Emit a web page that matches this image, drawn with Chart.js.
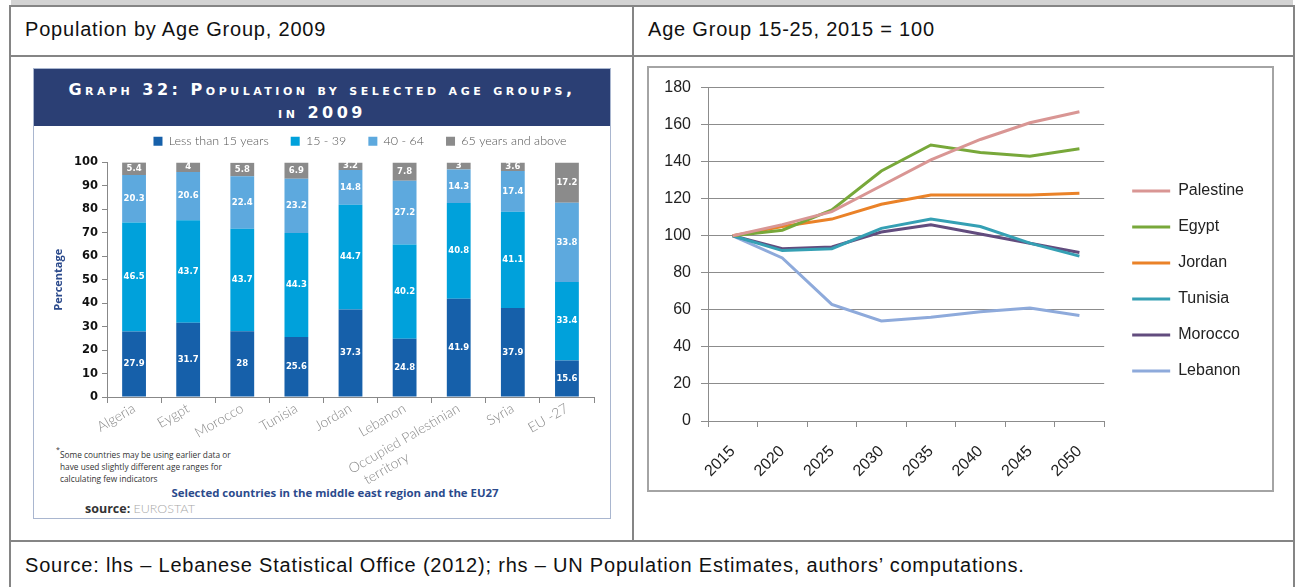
<!DOCTYPE html>
<html><head><meta charset="utf-8">
<script src="https://cdn.jsdelivr.net/npm/chart.js@4.4.1/dist/chart.umd.min.js"></script>
<style>
html,body{margin:0;padding:0;background:#fff;width:1300px;height:587px;overflow:hidden;}
body{position:relative;font-family:"Liberation Sans",Arial,sans-serif;}
.a{position:absolute;}
.h{background:#858585;height:2px;}
.v{background:#858585;width:2px;}
.cellt{font-size:20px;letter-spacing:0.8px;color:#111;white-space:nowrap;line-height:22px;}
#lbox{left:33px;top:68px;width:578px;height:451px;box-sizing:border-box;border:1px solid #a9b6cf;background:#fff;}
#lhead{left:34px;top:69px;width:576px;height:57px;background:#2b3f74;color:#fff;text-align:center;
  font-family:"DejaVu Sans",sans-serif;font-weight:bold;font-variant:small-caps;font-size:16px;letter-spacing:3.5px;line-height:23px;padding-top:9px;box-sizing:border-box;}
#rbox{left:647px;top:66px;width:627px;height:426px;box-sizing:border-box;border:2px solid #a4a4a4;background:#fff;}
.foot{font-family:"Open Sans",sans-serif;font-size:8.3px;color:#333;line-height:12px;white-space:nowrap;}
</style></head>
<body>
<div class="a" style="left:11px;top:0;width:1282px;height:5px;background:#d3d3d3"></div>
<div class="a h" style="left:9px;top:5px;width:1286px"></div>
<div class="a h" style="left:9px;top:55px;width:1286px"></div>
<div class="a h" style="left:9px;top:540px;width:1286px"></div>
<div class="a v" style="left:9px;top:5px;height:582px"></div>
<div class="a v" style="left:1293px;top:5px;height:582px"></div>
<div class="a v" style="left:632px;top:5px;height:537px"></div>
<div class="a cellt" style="left:25px;top:18px">Population by Age Group, 2009</div>
<div class="a cellt" style="left:648px;top:18px">Age Group 15-25, 2015 = 100</div>
<div class="a cellt" style="left:25px;top:554px">Source: lhs – Lebanese Statistical Office (2012); rhs – UN Population Estimates, authors’ computations.</div>

<div id="lbox" class="a"></div>
<div id="lhead" class="a">Graph 32: Population by selected age groups,<br>in 2009</div>
<div class="a foot" style="left:56px;top:444px;font-size:7px">*</div>
<div class="a foot" style="left:60px;top:449px">Some countries may be using earlier data or<br>have used slightly different age ranges for<br>calculating few indicators</div>
<div class="a" style="left:35px;top:485px;width:600px;text-align:center;font-family:'Open Sans',sans-serif;font-weight:bold;font-size:11.4px;color:#2b4a8c;white-space:nowrap">Selected countries in the middle east region and the EU27</div>
<div class="a" style="left:85px;top:500px;font-family:'Open Sans',sans-serif;font-size:12.5px;white-space:nowrap"><b style="color:#333">source:</b> <span style="color:#a8a8a8;font-family:'Lato',sans-serif;font-weight:300">EUROSTAT</span></div>
<canvas id="c1" class="a" width="575" height="380" style="left:34px;top:113px"></canvas>

<div id="rbox" class="a"></div>
<canvas id="c2" class="a" width="622" height="421" style="left:649px;top:68px"></canvas>

<script>
// ---- Left chart data ----
const countries = ['Algeria','Eygpt','Morocco','Tunisia','Jordan','Lebanon',['Occupied Palestinian','territory'],'Syria','EU -27'];
const ageGroups = ['Less than 15 years','15 - 39','40 - 64','65 years and above'];
const under15 = [27.9,31.7,28,25.6,37.3,24.8,41.9,37.9,15.6];
const age15to39 = [46.5,43.7,43.7,44.3,44.7,40.2,40.8,41.1,33.4];
const age40to64 = [20.3,20.6,22.4,23.2,14.8,27.2,14.3,17.4,33.8];
const age65plus = [5.4,4,5.8,6.9,3.2,7.8,3,3.6,17.2];
const pctTicks = [0,10,20,30,40,50,60,70,80,90,100];

// ---- Right chart data ----
const years = ['2015','2020','2025','2030','2035','2040','2045','2050'];
const lineNames = ['Palestine','Egypt','Jordan','Tunisia','Morocco','Lebanon'];
const palestine = [100,106,113,127,141,152,161,167];
const egypt = [100,103,114,135,149,145,143,147];
const jordan = [100,105,109,117,122,122,122,123];
const tunisia = [100,92,93,104,109,105,96,89];
const morocco = [100,93,94,102,106,101,96,91];
const lebanon = [100,88,63,54,56,59,61,57];

const barColors = ['#1660aa','#00a1db','#5da9de','#8b8b8b'];
const lineColors = ['#d99694','#78a83a','#ea8228','#35a0b4','#624c7e','#8eaadb'];

const legendShift = {
  id:'legendShift',
  afterLayout(chart, args, opts){
    const l = chart.legend; if(!l) return;
    l.left += opts.dx||0; l.right += opts.dx||0; l.top += opts.dy||0; l.bottom += opts.dy||0;
  }
};
const barLabels = {
  id:'barLabels',
  afterDatasetsDraw(chart){
    const ctx = chart.ctx;
    ctx.save();
    ctx.fillStyle = '#fff';
    ctx.font = 'bold 8.5px "DejaVu Sans"';
    ctx.textAlign = 'center'; ctx.textBaseline = 'middle';
    chart.data.datasets.forEach((ds, di) => {
      const meta = chart.getDatasetMeta(di);
      meta.data.forEach((el, i) => {
        const top = Math.max(el.y, chart.chartArea.top);
        ctx.fillText(String(ds.data[i]), el.x, (top + el.base)/2);
      });
    });
    ctx.restore();
  }
};

const stackSeries = [under15, age15to39, age40to64, age65plus];
new Chart(document.getElementById('c1'), {
  type:'bar',
  data:{ labels: countries,
    datasets: stackSeries.map((d,i)=>({label:ageGroups[i], data:d, backgroundColor:barColors[i], borderWidth:0,
      barPercentage:0.44, categoryPercentage:1})) },
  options:{
    responsive:false, animation:false,
    layout:{padding:{left:18,right:15,top:5,bottom:0}},
    plugins:{
      tooltip:{enabled:false},
      legend:{ position:'top', align:'center',
        labels:{ boxWidth:9, boxHeight:9, padding:22, color:'#555', font:{family:'Lato', size:12.5, weight:'300'} } },
      legendShift:{dx:37, dy:-5}
    },
    scales:{
      x:{ stacked:true,
        grid:{offset:true, drawOnChartArea:false, tickLength:6, color:'#888'},
        border:{color:'#888'},
        ticks:{ autoSkip:false, maxRotation:30, minRotation:30, padding:-3, color:'#8a8a8a', font:{family:'Lato', size:14, weight:'300'},
          callback:(v,i)=>{ const l = countries[i]; return Array.isArray(l) ? [l[0], l[1] + ' '.repeat(18)] : l; } },
        afterFit:s=>{ s.height = 96; } },
      y:{ stacked:true, min:0, max:100,
        afterBuildTicks:s=>{ s.ticks = pctTicks.map(v=>({value:v})); },
        grid:{drawOnChartArea:false, tickLength:5, color:'#888'},
        border:{color:'#888'},
        ticks:{ color:'#111', padding:4, font:{family:'DejaVu Sans', size:11.5, weight:'bold'} },
        title:{ display:true, text:'Percentage', color:'#2b4a8c', padding:{top:0,bottom:0}, font:{family:'Open Sans', size:11, weight:'bold'} },
        afterFit:s=>{ s.width = 55; } }
    }
  },
  plugins:[legendShift, barLabels]
});

const lineSeries = [palestine, egypt, jordan, tunisia, morocco, lebanon];
new Chart(document.getElementById('c2'), {
  type:'line',
  data:{ labels: years,
    datasets: lineSeries.map((d,i)=>({label:lineNames[i], data:d, borderColor:lineColors[i], backgroundColor:lineColors[i],
      borderWidth:3, pointRadius:0, tension:0, fill:false})) },
  options:{
    responsive:false, animation:false,
    layout:{padding:{left:0,right:25,top:19,bottom:0}},
    plugins:{
      tooltip:{enabled:false},
      legend:{ position:'right', align:'center',
        labels:{ boxWidth:38, boxHeight:3, padding:20, color:'#222', font:{family:'Liberation Sans', size:16},
          generateLabels:(chart)=>Chart.defaults.plugins.legend.labels.generateLabels(chart).map(l=>({...l, lineWidth:0, fillStyle:l.strokeStyle})) } },
      legendShift:{dx:8, dy:-7}
    },
    scales:{
      x:{ offset:true,
        grid:{offset:true, drawOnChartArea:false, tickLength:6, color:'#8c8c8c'},
        border:{color:'#8c8c8c'},
        ticks:{ maxRotation:45, minRotation:45, padding:15, color:'#222', font:{family:'Liberation Sans', size:16} },
        afterFit:s=>{ s.height = 68; } },
      y:{ min:0, max:180, ticks:{ stepSize:20, padding:10, color:'#222', font:{family:'Liberation Sans', size:16} },
        grid:{ color:'#8c8c8c', tickLength:7 },
        border:{color:'#8c8c8c'},
        afterFit:s=>{ s.width = 59; } }
    }
  },
  plugins:[legendShift]
});
</script>
</body></html>
